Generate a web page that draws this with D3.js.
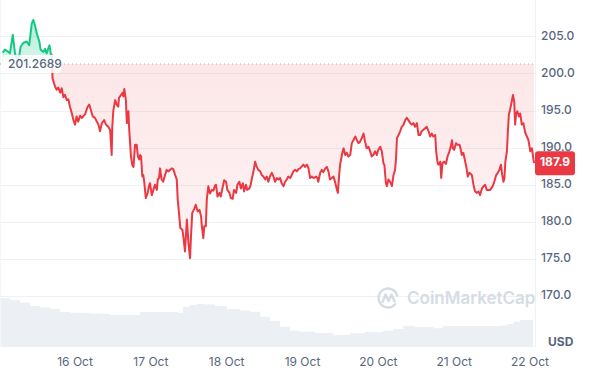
<!DOCTYPE html>
<html>
<head>
<meta charset="utf-8">
<script src="https://cdn.jsdelivr.net/npm/d3@7"></script>
<style>
  html, body { margin: 0; padding: 0; background: #fff; }
  svg { display: block; font-family: Inter, "Noto Sans", sans-serif; }
</style>
</head>
<body>
<div id="chart"></div>
<script>
// hours since 15 Oct 00:00 and price (USD)
const priceHours = [
  1.1, 1.8, 2.9, 3.4, 4.3, 5.0, 6.0, 6.8, 7.6, 8.7, 9.5, 10.3, 10.8, 11.3, 11.9, 12.7,
  13.1, 14.0, 14.5, 15.0, 15.9, 16.3, 16.6,
  16.9, 17.7, 18.2, 18.7, 19.3, 19.8, 20.3, 20.8, 21.4, 21.9, 22.4, 23.0, 23.5, 24.0,
  24.5, 25.0, 25.6, 26.1, 26.6, 27.2, 27.9, 28.5, 29.0, 29.6, 30.3, 30.9, 31.4, 31.9,
  32.5, 33.2, 33.8, 34.5, 35.1, 35.6, 35.8, 36.1, 36.7, 37.2, 37.7, 37.9, 38.6, 39.0,
  39.3, 39.6, 40.1, 40.4, 40.7, 40.9, 41.1, 41.7, 42.1, 42.5, 43.0, 43.5, 43.9, 44.3,
  44.6, 44.9, 45.3, 45.6, 45.9, 46.4, 47.0, 47.4, 47.7, 48.3, 48.8, 49.3, 49.9, 50.2,
  50.6, 50.9, 51.4, 51.9, 52.5, 53.0, 53.5, 54.1, 54.6, 55.1, 55.7, 56.2, 56.5, 56.9,
  57.3, 58.0, 58.4, 58.8, 59.4, 59.9, 60.4, 60.7, 61.1, 61.8, 62.2, 62.8, 63.4, 63.9,
  64.1, 64.6, 64.9, 65.4, 65.7, 66.2, 66.7, 67.3, 67.8, 68.3, 68.6, 69.1, 69.7, 70.1,
  70.8, 71.2, 71.8, 72.2, 72.9, 73.3, 73.9, 74.3, 75.0, 75.4, 76.0, 76.5, 77.1, 77.5,
  78.1, 78.5, 79.2, 79.6, 80.0, 80.5, 81.0, 81.5, 82.0, 82.6, 83.1, 83.6, 84.2, 84.7,
  85.2, 85.7, 86.3, 86.8, 87.3, 87.9, 88.4, 88.9, 89.4, 90.0, 90.5, 91.0, 91.5, 92.1,
  92.6, 93.1, 93.7, 94.2, 94.7, 95.2, 96.3, 96.8, 97.4, 97.9, 98.4, 98.9, 99.5, 100.3,
  100.7, 101.0, 101.6, 102.1, 102.6, 103.2, 103.7, 104.2, 104.7, 105.3, 105.8, 106.3,
  106.9, 107.2, 107.6, 107.9, 108.2, 108.6, 109.0, 109.5, 110.0, 110.5, 111.1, 111.6,
  112.1, 112.7, 113.2, 113.7, 114.2, 114.8, 115.3, 115.8, 116.3, 116.9, 117.4, 117.9,
  118.4, 119.0, 119.5, 120.0, 120.6, 121.1, 121.6, 121.9, 122.4, 122.7, 123.2, 123.7,
  124.3, 124.8, 125.3, 125.6, 125.9, 126.4, 126.9, 127.4, 128.0, 128.5, 129.0, 129.5,
  130.1, 130.6, 131.1, 131.6, 132.2, 132.7, 133.2, 133.7, 134.3, 134.8, 135.3, 135.9,
  136.4, 136.9, 137.4, 138.0, 138.3, 138.7, 139.0, 139.6, 139.9, 140.3, 140.8, 141.4,
  141.9, 142.5, 142.9, 143.3, 143.6, 144.0, 144.6, 145.0, 145.7, 146.1, 146.4, 146.9,
  147.5, 148.0, 148.3, 148.8, 149.6, 150.1, 150.6, 151.2, 151.7, 152.2, 152.8, 153.3,
  153.8, 154.3, 154.8, 155.4, 156.2, 156.7, 157.3, 157.8, 158.3, 158.8, 159.1, 159.6,
  159.9, 160.2, 160.7, 161.0, 161.3, 161.7, 162.3, 162.6, 163.0, 163.3, 163.6, 164.0,
  164.5, 164.9, 165.4, 165.9, 166.5, 167.0, 167.5, 168.1, 168.6, 169.1, 169.3
];
const priceValues = [
  202.8, 203.2, 202.9, 202.7, 205.2, 202.7, 201.6, 203.6, 204.1, 204.3, 203.8, 206.7, 207.2, 206.5, 205.4, 204.3,
  203.2, 202.9, 203.3, 202.7, 203.8, 202.7, 202.5,
  199.3, 198.2, 197.8, 198.1, 197.4, 198.0, 196.8, 197.1, 196.4, 196.5, 195.5, 194.6, 193.7, 193.1,
  194.2, 193.5, 194.3, 194.0, 194.2, 194.5, 195.4, 195.8, 195.1, 194.2, 194.0, 193.5, 193.1, 192.2,
  193.3, 193.7, 193.1, 192.8, 192.4, 189.0, 192.8, 194.9, 196.4, 195.8, 195.5, 196.7, 197.1, 197.4,
  196.9, 197.9, 196.4, 193.3, 194.6, 194.9, 192.8, 188.8, 187.7, 187.4, 190.4, 190.4, 188.8, 188.4,
  189.0, 188.8, 186.1, 186.3, 185.4, 183.2, 183.9, 184.8, 185.2, 183.6, 184.3, 185.0, 184.3, 185.7,
  185.9, 187.2, 185.7, 185.4, 186.3, 187.0, 186.8, 187.0, 187.2, 187.1, 186.3, 185.7, 183.0, 181.2,
  179.2, 178.9, 177.6, 176.0, 180.3, 177.1, 175.1, 178.0, 181.2, 181.8, 182.3, 181.4, 181.6, 180.7,
  179.6, 177.8, 179.4, 179.4, 183.0, 184.8, 183.8, 184.3, 184.2, 184.9, 185.0, 183.4, 183.9, 183.4,
  184.8, 185.6, 185.4, 184.3, 183.9, 183.2, 183.1, 184.3, 183.9, 185.0, 185.4, 184.5, 185.2, 184.1,
  185.0, 184.3, 184.5, 185.0, 185.9, 186.8, 188.1, 187.4, 187.0, 186.8, 186.3, 186.1, 185.7, 186.1,
  185.4, 186.1, 186.6, 186.1, 185.4, 185.9, 185.7, 185.9, 185.2, 184.8, 185.4, 185.7, 186.1, 185.9,
  186.3, 186.8, 187.0, 186.8, 187.1, 187.2, 187.7, 187.4, 187.7, 187.2, 185.9, 186.1, 185.9, 186.1,
  185.9, 185.4, 186.6, 187.0, 186.7, 187.2, 187.4, 186.8, 185.7, 185.9, 186.1, 185.4,
  184.3, 183.9, 186.3, 187.7, 188.4, 189.3, 189.9, 189.0, 189.3, 188.8, 189.0, 190.6,
  191.0, 191.5, 191.0, 190.6, 190.8, 191.3, 191.9, 190.8, 189.9, 190.1, 189.5, 188.8,
  189.0, 189.5, 189.0, 189.7, 190.1, 189.5, 187.9, 187.7, 185.2, 184.8, 185.7, 185.4,
  184.8, 186.3, 187.0, 188.6, 191.3, 191.7, 192.2, 192.8, 193.1, 193.7, 194.0, 193.7,
  193.3, 193.1, 193.3, 192.8, 193.3, 191.7, 191.7, 192.2, 192.4, 192.6, 192.8, 192.2,
  191.5, 191.9, 191.5, 191.7, 189.5, 188.1, 187.7, 188.1, 185.9, 187.9, 188.1, 187.8,
  188.8, 189.5, 190.1, 191.0, 189.9, 189.7, 190.6, 190.4, 190.4, 189.7, 189.0, 189.3,
  188.1, 187.0, 186.1, 186.6, 186.3, 185.0, 184.1, 183.9, 184.1, 183.6, 184.5, 184.8,
  185.0, 184.3, 184.3, 184.3, 184.8, 185.4, 186.3, 186.6, 187.0, 187.7, 186.6, 185.4,
  185.8, 188.1, 189.5, 192.2, 194.4, 195.1, 196.4, 197.1, 196.2, 193.1, 194.6, 194.9,
  194.2, 194.6, 193.1, 193.3, 192.0, 191.5, 191.0, 189.5, 189.9, 188.4, 187.9
];
// 24h volume (USD millions)
const volumeHours = [
  0.0, 3.4, 6.6, 9.8, 12.9, 16.1, 19.2, 22.4, 25.6, 28.7, 31.9, 35.1, 38.2, 41.4, 44.6,
  47.7, 50.9, 54.1, 56.6, 58.2, 60.4, 62.6, 65.2, 68.3, 72.1, 76.2, 79.4, 82.6, 85.7,
  88.9, 92.1, 95.2, 100.0, 105.7, 111.1, 115.8, 121.5, 124.7, 127.9, 131.6, 137.4,
  140.5, 145.9, 153.2, 158.6, 160.8, 162.7, 164.9, 169.0
];
const volumeValues = [
  487, 470, 443, 410, 395, 380, 350, 343, 340, 335, 330, 320, 320, 320, 350,
  350, 350, 350, 343, 403, 420, 430, 425, 410, 380, 365, 353, 303, 260,
  203, 163, 153, 140, 120, 137, 150, 163, 180, 210, 200, 187,
  210, 210, 210, 215, 230, 253, 270, 280
];
const priceTicks = [170, 175, 180, 185, 190, 195, 200, 205];
const dayTicks = [16, 17, 18, 19, 20, 21, 22];
const baselinePrice = 201.2689;
const lastPrice = 187.9;
const unitLabel = 'USD';
const watermark = 'CoinMarketCap';

const RED = '#ea3943', GREEN = '#16c784', GREY = '#58667e', GRID = '#eff2f5';
const W = 600, H = 370, plotRight = 535;

const t0 = new Date(2024, 9, 15, 0, 0);
const atHour = h => new Date(t0.getTime() + h * 3600e3);
const prices = priceHours.map((h, i) => ({t: atHour(h), v: priceValues[i]}));
const volumes = volumeHours.map((h, i) => ({t: atHour(h), v: volumeValues[i]}));

const x = d3.scaleTime()
  .domain([atHour(0), atHour(168)])
  .range([-0.8, 530]);
const y = d3.scaleLinear()
  .domain([170, 205])
  .range([296, 36.3]);
const yVol = d3.scaleLinear()
  .domain([0, 500])
  .range([347, 297]);

const svg = d3.select('#chart').append('svg')
  .attr('width', W)
  .attr('height', H);

const defs = svg.append('defs');
const yBase = y(baselinePrice);

defs.append('clipPath').attr('id', 'clipUp')
  .append('rect').attr('x', 0).attr('y', 0).attr('width', plotRight).attr('height', yBase);
defs.append('clipPath').attr('id', 'clipDown')
  .append('rect').attr('x', 0).attr('y', yBase).attr('width', plotRight).attr('height', H - yBase);

let gGreen = defs.append('linearGradient').attr('id', 'gradGreen')
  .attr('gradientUnits', 'userSpaceOnUse')
  .attr('x1', 0).attr('x2', 0).attr('y1', y(207)).attr('y2', yBase);
gGreen.append('stop').attr('offset', 0).attr('stop-color', GREEN).attr('stop-opacity', 0.32);
gGreen.append('stop').attr('offset', 1).attr('stop-color', GREEN).attr('stop-opacity', 0.16);

let gRed = defs.append('linearGradient').attr('id', 'gradRed')
  .attr('gradientUnits', 'userSpaceOnUse')
  .attr('x1', 0).attr('x2', 0).attr('y1', yBase).attr('y2', y(174));
gRed.append('stop').attr('offset', 0).attr('stop-color', RED).attr('stop-opacity', 0.12);
gRed.append('stop').attr('offset', 1).attr('stop-color', RED).attr('stop-opacity', 0.06);

// volume band
svg.append('path')
  .datum(volumes)
  .attr('fill', '#eceff4')
  .attr('d', d3.area()
    .x(d => x(d.t))
    .y0(yVol(0))
    .y1(d => yVol(d.v))
    .curve(d3.curveStepAfter));

// grid
svg.append('g')
  .selectAll('line')
  .data(priceTicks)
  .enter()
  .append('line')
  .attr('x1', 0)
  .attr('x2', plotRight)
  .attr('y1', d => Math.round(y(d)) + 0.5)
  .attr('y2', d => Math.round(y(d)) + 0.5)
  .attr('stroke', GRID)
  .attr('stroke-width', 1);

svg.append('line')
  .attr('x1', plotRight + 0.5).attr('x2', plotRight + 0.5)
  .attr('y1', 0).attr('y2', yVol(0))
  .attr('stroke', GRID);
svg.append('line')
  .attr('x1', 0.5).attr('x2', 0.5)
  .attr('y1', 0).attr('y2', yVol(0))
  .attr('stroke', '#f5f6f8');

// watermark
let wm = svg.append('g')
  .attr('transform', 'translate(388,298)')
  .attr('fill', 'none')
  .attr('stroke', '#d6dce6')
  .attr('stroke-width', 2.4)
  .attr('stroke-linecap', 'round')
  .attr('stroke-linejoin', 'round');
wm.append('path').attr('d', 'M7.2,6.2 A9.5,9.5 0 1 1 9.2,-2.5');
wm.append('path').attr('d', 'M-5.5,4 L-2.5,-3.5 L0.5,3 L3.5,-3.5 L6.5,3.5');
svg.append('text')
  .attr('x', 407)
  .attr('y', 304)
  .attr('fill', '#d6dce6')
  .style('font-size', '17px')
  .style('font-weight', 600)
  .text(watermark);

// filled areas
const area = d3.area()
  .x(d => x(d.t))
  .y0(yBase)
  .y1(d => y(d.v));
svg.append('path').datum(prices)
  .attr('clip-path', 'url(#clipUp)')
  .attr('fill', 'url(#gradGreen)')
  .attr('d', area);
svg.append('path').datum(prices)
  .attr('clip-path', 'url(#clipDown)')
  .attr('fill', 'url(#gradRed)')
  .attr('d', area);

// baseline
svg.append('line')
  .attr('x1', 0).attr('x2', plotRight)
  .attr('y1', yBase).attr('y2', yBase)
  .attr('stroke', '#a6b0c3')
  .attr('stroke-width', 1)
  .attr('stroke-dasharray', '1,3');

// price line
const line = d3.line()
  .x(d => x(d.t))
  .y(d => y(d.v));
svg.append('path').datum(prices)
  .attr('clip-path', 'url(#clipUp)')
  .attr('fill', 'none')
  .attr('stroke', GREEN)
  .attr('stroke-width', 2)
  .attr('stroke-linejoin', 'round')
  .attr('d', line);
svg.append('path').datum(prices)
  .attr('clip-path', 'url(#clipDown)')
  .attr('fill', 'none')
  .attr('stroke', RED)
  .attr('stroke-width', 2)
  .attr('stroke-linejoin', 'round')
  .attr('d', line);

// baseline label
svg.append('rect')
  .attr('x', 3).attr('y', yBase - 9)
  .attr('width', 58).attr('height', 18)
  .attr('rx', 4)
  .attr('fill', '#fff')
  .attr('fill-opacity', 0.85);
svg.append('text')
  .attr('x', 8).attr('y', yBase + 1)
  .attr('dominant-baseline', 'middle')
  .attr('fill', GREY)
  .style('font-size', '12px')
  .style('font-weight', 500)
  .text(d3.format('.4f')(baselinePrice));

// y axis labels
svg.append('g')
  .selectAll('text')
  .data(priceTicks)
  .enter()
  .append('text')
  .attr('x', 541)
  .attr('y', d => y(d))
  .attr('dominant-baseline', 'middle')
  .attr('fill', GREY)
  .style('font-size', '12px')
  .style('font-weight', 500)
  .text(d => d3.format('.1f')(d));

svg.append('text')
  .attr('x', 548).attr('y', 343)
  .attr('dominant-baseline', 'middle')
  .attr('fill', GREY)
  .style('font-size', '12px')
  .style('font-weight', 700)
  .text(unitLabel);

// x axis labels
svg.append('g')
  .selectAll('text')
  .data(dayTicks)
  .enter()
  .append('text')
  .attr('x', d => x(new Date(2024, 9, d)))
  .attr('y', 363)
  .attr('text-anchor', 'middle')
  .attr('dominant-baseline', 'middle')
  .attr('fill', GREY)
  .style('font-size', '12px')
  .text(d => d3.timeFormat('%d %b')(new Date(2024, 9, d)));

// last price tag
const yLast = y(lastPrice);
svg.append('rect')
  .attr('x', plotRight).attr('y', yLast - 12)
  .attr('width', 40).attr('height', 24)
  .attr('rx', 3)
  .attr('fill', RED);
svg.append('text')
  .attr('x', plotRight + 20).attr('y', yLast)
  .attr('text-anchor', 'middle')
  .attr('dominant-baseline', 'middle')
  .attr('fill', '#fff')
  .style('font-size', '12px')
  .style('font-weight', 700)
  .text(lastPrice.toFixed(1));
</script>
</body>
</html>
